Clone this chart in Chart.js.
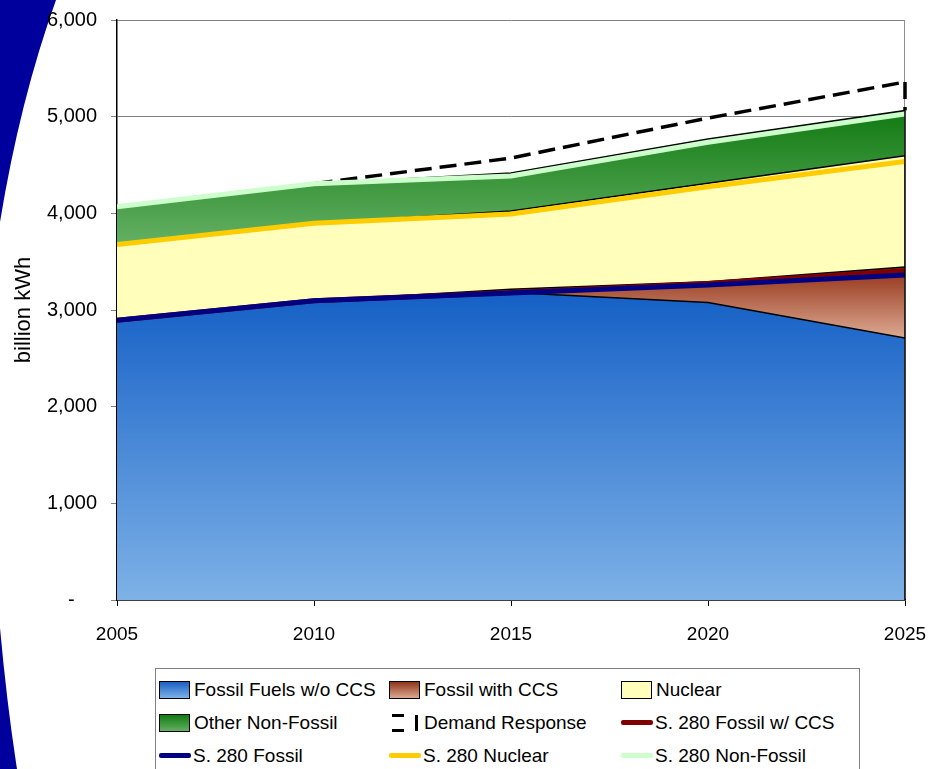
<!DOCTYPE html>
<html>
<head>
<meta charset="utf-8">
<script src="https://cdn.jsdelivr.net/npm/chart.js@4.4.1/dist/chart.umd.min.js"></script>
<style>
  html, body { margin: 0; padding: 0; background: #fff; overflow: hidden; }
  #page { position: relative; width: 930px; height: 769px; font-family: 'Liberation Sans', Arial, sans-serif; }
  #swoosh { position: absolute; left: 0; top: 0; }
  #wrap { position: absolute; left: 0; top: 0; width: 930px; height: 660px; }
  #legend { position: absolute; left: 155px; top: 668px; width: 705px; height: 112px;
            border: 1.5px solid #7f7f7f; background: #fff; box-sizing: border-box; }
  #legend ul { list-style: none; margin: 0; padding: 4px 0 0 3px; display: grid;
               grid-template-columns: 230px 232px 232px; grid-auto-rows: 33px; }
  #legend li { display: flex; align-items: center; font-size: 19px; color: #000; white-space: nowrap; }
  .sw { display: inline-block; box-sizing: border-box; flex: none; }
  .sw-area { width: 31px; height: 18px; border: 1px solid #000; margin-right: 4px; }
  .sw-line { width: 32px; height: 5px; border-radius: 2px; margin-right: 2px; }
  .sw-dash { width: 31px; height: 18px; margin-right: 4px; }
</style>
</head>
<body>
<div id="page">
  <svg id="swoosh" width="930" height="769">
    <path d="M0,0 L56,0 Q20,100 0,222 Z" fill="#00009C"/>
    <path d="M0,628 Q7,705 17,769 L0,769 Z" fill="#00009C"/>
  </svg>
  <div id="wrap"><canvas id="chart"></canvas></div>
  <div id="legend"><ul></ul></div>
</div>
<script>
// --- datos (billion kWh) ---
const years = [2005, 2010, 2015, 2020, 2025];

// areas apiladas
const fossilNoCCS    = [2895, 3095, 3180, 3078, 2710];
const fossilCCS      = [0, 0, 35, 215, 735];
const nuclear        = [783, 803, 809, 1017, 1152];
const otherNonFossil = [390, 408, 393, 460, 467];
const demandResponse = [0, 0, 155, 216, 295];

// lineas S. 280 (valores acumulados)
const s280FossilCCS   = [2895, 3095, 3180, 3275, 3405];
const s280Fossil      = [2895, 3095, 3176, 3259, 3362];
const s280Nuclear     = [3678, 3898, 3993, 4275, 4536];
const s280NonFossil   = [4068, 4306, 4386, 4735, 5028];

const FONT = "'Liberation Sans', Arial, sans-serif";

const pts = arr => years.map((x, i) => ({ x: x, y: arr[i] }));
const sumArr = (...arrs) => years.map((_, i) => arrs.reduce((s, a) => s + a[i], 0));

// limites de cada forma para el degradado vertical
const topBlue  = sumArr(fossilNoCCS);
const topBrown = sumArr(fossilNoCCS, fossilCCS);
const topYell  = sumArr(fossilNoCCS, fossilCCS, nuclear);
const topGreen = sumArr(fossilNoCCS, fossilCCS, nuclear, otherNonFossil);

function vGradient(topVal, botVal, c1, c2) {
    return (c) => {
        const chart = c.chart;
        if (!chart.chartArea) return c2;
        const y = chart.scales.y;
        const g = chart.ctx.createLinearGradient(0, y.getPixelForValue(topVal), 0, y.getPixelForValue(botVal));
        g.addColorStop(0, c1);
        g.addColorStop(1, c2);
        return g;
    };
}

function areaSet(label, data, fill, bg, legendCols) {
    return {
        label: label, data: pts(data), stack: 'a', order: 10,
        fill: fill, backgroundColor: bg,
        borderColor: '#000', borderWidth: 1.5,
        pointRadius: 0, tension: 0,
        legendKind: 'area', legendCols: legendCols
    };
}

function lineSet(label, data, color, order) {
    return {
        label: label, data: pts(data), stack: label, order: order,
        fill: false, borderColor: color, borderWidth: 5,
        pointRadius: 0, tension: 0, borderCapStyle: 'butt',
        legendKind: 'line', legendCols: [color]
    };
}

const datasets = [
    areaSet('Fossil Fuels w/o CCS', fossilNoCCS, 'origin',
        vGradient(Math.max(...topBlue), 0, '#1560C6', '#7EB2E7'), ['#1a5fc4', '#7eb2e7']),
    areaSet('Fossil with CCS', fossilCCS, '-1',
        vGradient(Math.max(...topBrown), Math.min(...topBlue), '#922F14', '#DCAA92'), ['#8e3418', '#dcaa92']),
    areaSet('Nuclear', nuclear, '-1', '#FFFFBB', ['#ffffbb', '#ffffbb']),
    areaSet('Other Non-Fossil', otherNonFossil, '-1',
        vGradient(Math.max(...topGreen), Math.min(...topYell), '#117A11', '#64B064'), ['#117a11', '#64b064']),
    {
        label: 'Demand Response', data: pts(demandResponse), stack: 'a', order: 10,
        fill: false, borderColor: '#000', borderWidth: 3.5, borderDash: [17, 8],
        pointRadius: 0, tension: 0, legendKind: 'dash'
    },
    lineSet('S. 280 Fossil w/ CCS', s280FossilCCS, '#800000', 2),
    lineSet('S. 280 Fossil', s280Fossil, '#000080', 1),
    lineSet('S. 280 Nuclear', s280Nuclear, '#FFCC00', 1),
    lineSet('S. 280 Non-Fossil', s280NonFossil, '#CCFFCC', 1)
];

// leyenda HTML en rejilla de 3 columnas
function makeSwatch(ds) {
    const sw = document.createElement('span');
    if (ds.legendKind === 'area') {
        sw.className = 'sw sw-area';
        sw.style.background = 'linear-gradient(' + ds.legendCols[0] + ',' + ds.legendCols[1] + ')';
    } else if (ds.legendKind === 'line') {
        sw.className = 'sw sw-line';
        sw.style.background = ds.legendCols[0];
    } else {
        sw.className = 'sw sw-dash';
        sw.innerHTML = '<svg width="31" height="18"><path d="M3,1.5 H15 M3,16.5 H15 M27.5,1 V17" stroke="#000" stroke-width="3" fill="none"/></svg>';
    }
    return sw;
}

const htmlLegend = {
    id: 'htmlLegend',
    afterUpdate(chart) {
        const ul = document.querySelector('#legend ul');
        ul.innerHTML = '';
        chart.data.datasets.forEach(ds => {
            const li = document.createElement('li');
            li.appendChild(makeSwatch(ds));
            li.appendChild(document.createTextNode(ds.label));
            ul.appendChild(li);
        });
    }
};

// borde derecho del area de trazado y cantos verticales de las areas
const plotEdges = {
    id: 'plotEdges',
    beforeDatasetsDraw(chart) {
        const { ctx, chartArea: a } = chart;
        ctx.save();
        ctx.strokeStyle = '#909090';
        ctx.lineWidth = 1;
        ctx.beginPath();
        ctx.moveTo(a.right - 0.5, a.top);
        ctx.lineTo(a.right - 0.5, a.bottom);
        ctx.stroke();
        ctx.restore();
    },
    afterDatasetsDraw(chart) {
        const { ctx, chartArea: a } = chart;
        const green = chart.getDatasetMeta(3).data.at(-1);
        const dr = chart.getDatasetMeta(4).data.at(-1);
        ctx.save();
        ctx.strokeStyle = '#000';
        ctx.lineWidth = 1.5;
        ctx.beginPath();
        ctx.moveTo(a.right, green.y);
        ctx.lineTo(a.right, a.bottom);
        ctx.stroke();
        ctx.lineWidth = 3.5;
        ctx.setLineDash([17, 8]);
        ctx.beginPath();
        ctx.moveTo(a.right, dr.y);
        ctx.lineTo(a.right, green.y);
        ctx.stroke();
        ctx.restore();
    }
};

new Chart(document.getElementById('chart').getContext('2d'), {
    type: 'line',
    data: { datasets: datasets },
    options: {
        responsive: true,
        maintainAspectRatio: false,
        animation: false,
        layout: { padding: { left: 11, right: 25, top: 20, bottom: 0 } },
        scales: {
            x: {
                type: 'linear', min: 2005, max: 2025,
                ticks: { stepSize: 5, color: '#000', font: { size: 19, family: FONT }, padding: 17,
                         maxRotation: 0, callback: v => String(v) },
                grid: { drawOnChartArea: false, color: '#000', tickLength: 6 },
                border: { color: '#000', width: 1.5 },
                afterFit(s) { s.height = 60; s.paddingLeft = 0; s.paddingRight = 0; }
            },
            y: {
                stacked: true, min: 0, max: 6000,
                ticks: { stepSize: 1000, color: '#000', font: { size: 20, family: FONT }, padding: 14,
                         callback: v => v === 0 ? '-    ' : v.toLocaleString('en-US') },
                grid: { color: '#808080', lineWidth: 1, tickLength: 6 },
                border: { color: '#000', width: 1.5 },
                title: { display: true, text: 'billion kWh', color: '#000',
                         font: { size: 22, family: FONT }, padding: 0 },
                afterFit(s) { s.width = 106; s.paddingTop = 0; s.paddingBottom = 0; }
            }
        },
        plugins: {
            legend: { display: false },
            tooltip: { enabled: false },
            filler: { drawTime: 'beforeDatasetsDraw' }
        }
    },
    plugins: [htmlLegend, plotEdges]
});
</script>
</body>
</html>
